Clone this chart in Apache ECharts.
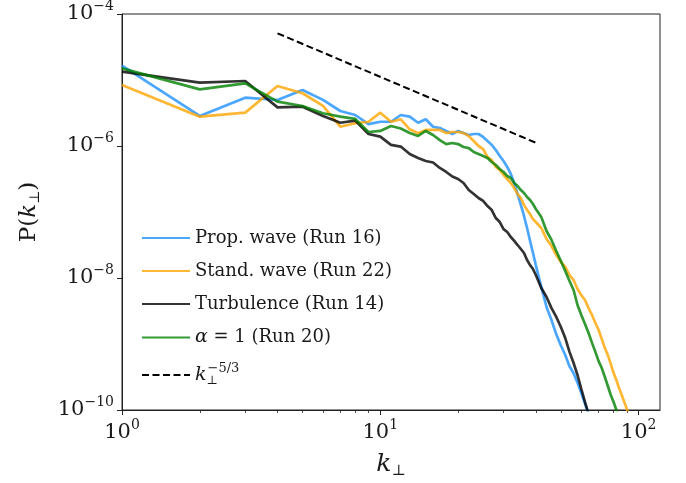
<!DOCTYPE html>
<html><head><meta charset="utf-8">
<script src="https://cdn.jsdelivr.net/npm/echarts@6/dist/echarts.min.js"></script>
<style>html,body{margin:0;padding:0;background:#fff}#c{width:686px;height:483px}</style>
</head><body><div id="c"></div>
<script>
// ---- data ----
const kProp = [1,2,3,4,5,6,7,8,9,10,11,12,13,14,15,16,17,18,19,20,21,22,23,24,25,26,27,28,29,30,31,32,33,34,35,36,37,38,39,40,42,44,46,48,50,52,54,56,58,60,62,64];
const pProp = [1.65e-5,2.85e-6,5.4e-6,4.98e-6,7.05e-6,5.0e-6,3.39e-6,2.95e-6,2.15e-6,2.33e-6,2.33e-6,2.95e-6,2.78e-6,2.25e-6,2.54e-6,1.96e-6,1.87e-6,1.69e-6,1.52e-6,1.69e-6,1.57e-6,1.47e-6,1.52e-6,1.52e-6,1.37e-6,1.19e-6,1.04e-6,8.7e-7,7.05e-7,5.93e-7,4.81e-7,3.77e-7,2.75e-7,1.87e-7,1.28e-7,8.7e-8,5.73e-8,3.64e-8,2.39e-8,1.57e-8,7.3e-9,3.64e-9,2.3e-9,1.4e-9,9.5e-10,6.8e-10,4.6e-10,3.6e-10,2.6e-10,1.8e-10,1.25e-10,8.7e-11];

const kStand = [1,2,3,4,5,6,7,8,9,10,11,12,13,14,15,16,17,18,19,20,21,22,23,24,25,26,27,28,29,30,31,32,33,34,35,36,37,38,39,40,42,44,46,48,50,52,54,56,58,60,62,64,66,68,70,72,74,76,78,80,82,84,86,88,90,92];
const pStand = [8.4e-6,2.78e-6,3.2e-6,8.1e-6,6.3e-6,4.04e-6,1.96e-6,2.21e-6,2.33e-6,3.2e-6,2.33e-6,2.54e-6,1.79e-6,1.56e-6,1.75e-6,1.75e-6,1.75e-6,1.57e-6,1.63e-6,1.63e-6,1.57e-6,1.42e-6,1.19e-6,1.0e-6,9.0e-7,6.8e-7,6.1e-7,4.8e-7,4.33e-7,3.63e-7,3.16e-7,2.75e-7,2.31e-7,1.87e-7,1.63e-7,1.28e-7,1.07e-7,9.3e-8,7.8e-8,7.05e-8,5.73e-8,3.9e-8,3.05e-8,2.23e-8,1.75e-8,1.47e-8,1.11e-8,9.3e-9,6.8e-9,5.5e-9,4.65e-9,3.5e-9,2.75e-9,2.08e-9,1.63e-9,1.19e-9,8.7e-10,6.8e-10,5.0e-10,3.64e-10,2.85e-10,2.15e-10,1.69e-10,1.32e-10,1.04e-10,8.1e-11];

const kTurb = [1,2,3,4,5,6,7,8,9,10,11,12,13,14,15,16,17,18,19,20,21,22,23,24,25,26,27,28,29,30,31,32,33,34,35,36,37,38,39,40,42,44,46,48,50,52,54,56,58,60,62,64];
const pTurb = [1.34e-5,9.1e-6,9.66e-6,3.85e-6,3.94e-6,2.85e-6,2.25e-6,2.42e-6,1.52e-6,1.39e-6,1.04e-6,9.8e-7,7.57e-7,6.58e-7,5.93e-7,5.62e-7,4.65e-7,4.04e-7,3.45e-7,3.16e-7,2.75e-7,2.15e-7,1.87e-7,1.63e-7,1.47e-7,1.23e-7,1.07e-7,8.1e-8,7.05e-8,5.5e-8,4.98e-8,4.18e-8,3.64e-8,3.16e-8,2.75e-8,2.39e-8,1.87e-8,1.57e-8,1.37e-8,1.11e-8,7.05e-9,5.15e-9,3.5e-9,2.57e-9,1.81e-9,1.23e-9,7.6e-10,5.15e-10,3.39e-10,2.08e-10,1.32e-10,8.7e-11];

const kAlpha = [1,2,3,4,5,6,7,8,9,10,11,12,13,14,15,16,17,18,19,20,21,22,23,24,25,26,27,28,29,30,31,32,33,34,35,36,37,38,39,40,42,44,46,48,50,52,54,56,58,60,62,64,66,68,70,72,74,76,78,80,82,84];
const pAlpha = [1.5e-5,7.2e-6,8.9e-6,4.7e-6,4.04e-6,3.13e-6,2.78e-6,2.57e-6,1.63e-6,1.69e-6,2.01e-6,1.84e-6,1.57e-6,1.42e-6,1.69e-6,1.47e-6,1.23e-6,1.07e-6,1.11e-6,1.07e-6,9.66e-7,9.3e-7,8.1e-7,7.57e-7,7.05e-7,6.58e-7,5.73e-7,5.15e-7,4.49e-7,4.04e-7,3.51e-7,3.27e-7,2.75e-7,2.48e-7,2.15e-7,1.94e-7,1.69e-7,1.52e-7,1.32e-7,1.11e-7,8.4e-8,5.15e-8,3.77e-8,2.57e-8,1.81e-8,1.28e-8,9.0e-9,6.58e-9,3.9e-9,2.75e-9,2.01e-9,1.47e-9,1.04e-9,7.6e-10,5.5e-10,4.33e-10,3.16e-10,2.31e-10,1.69e-10,1.32e-10,1.0e-10,7.6e-11];

const kRef = [4, 40];
const pRef = [5.1e-5, 1.12e-6];

const seriesNames = ['Prop. wave (Run 16)','Stand. wave (Run 22)','Turbulence (Run 14)','α = 1 (Run 20)','k⊥^−5/3'];
const xMajor = [1, 10, 100];
const xMinor = [2,3,4,5,6,7,8,9,20,30,40,50,60,70,80,90];
const yMajor = [1e-10, 1e-8, 1e-6, 1e-4];

const zip = (a, b) => a.map((v, i) => [v, b[i]]);
const FONT = 'DejaVu Serif';
const TXT = '#1a1a1a';

function supLabel(v) {
  const e = Math.round(Math.log10(v));
  return '{b|10}{s|' + (e < 0 ? '−' + (-e) : e) + '}';
}
const tickRich = {
  b: {fontFamily: FONT, fontSize: 21, color: TXT},
  s: {fontFamily: FONT, fontSize: 14, color: TXT, padding: [0, 0, 16, 0]}
};

const chart = echarts.init(document.getElementById('c'), null, {renderer: 'canvas'});
const lineS = (name, data, color) => ({
  name, type: 'line', data, symbol: 'none', showSymbol: false,
  lineStyle: {color, width: 2.7, opacity: 0.8}, itemStyle: {color, opacity: 0.8},
  emphasis: {disabled: true}, clip: true
});

chart.setOption({
  animation: false,
  backgroundColor: '#fff',
  grid: {left: 122, right: 26, top: 14, bottom: 73, show: true, borderColor: '#222', borderWidth: 1, containLabel: false, outerBoundsMode: 'none'},
  legend: {
    orient: 'vertical', left: 136, top: 224,
    itemWidth: 48, itemHeight: 14, itemGap: 15,
    data: seriesNames,
    itemStyle: {opacity: 0},
    textStyle: {fontFamily: FONT, fontSize: 18, color: TXT,
      rich: {
        it: {fontFamily: FONT, fontStyle: 'italic', fontSize: 19, color: TXT},
        sub: {fontFamily: FONT, fontSize: 12, color: TXT, width: 1, padding: [12, 0, 0, 0]},
        sup: {fontFamily: FONT, fontSize: 13, color: TXT, padding: [0, 0, 13, 0]}
      }},
    formatter: n => {
      if (n === seriesNames[3]) return '{it|α} = 1 (Run 20)';
      if (n === seriesNames[4]) return '{it|k}{sub|⊥}{sup|−5/3}';
      return n;
    }
  },
  xAxis: [{
    type: 'log', logBase: 10, min: 1, max: 121,
    name: '{it|k}{sub|⊥}', nameLocation: 'middle', nameGap: 40,
    nameTextStyle: {rich: {
      it: {fontFamily: FONT, fontStyle: 'italic', fontSize: 25, color: TXT},
      sub: {fontFamily: FONT, fontSize: 15, color: TXT, padding: [14, 0, 0, 0]}
    }},
    axisLine: {show: true, lineStyle: {color: '#222', width: 1}},
    axisTick: {show: true, inside: false, length: 5, lineStyle: {color: '#222', width: 1}, customValues: xMajor},
    axisLabel: {show: true, margin: 8, customValues: xMajor, formatter: supLabel, rich: tickRich},
    splitLine: {show: false}, minorTick: {show: false}
  }, {
    type: 'log', logBase: 10, min: 1, max: 121, position: 'bottom',
    axisLine: {show: false},
    axisTick: {show: true, inside: false, length: 3, lineStyle: {color: '#222', width: 0.8}, customValues: xMinor},
    axisLabel: {show: false}, splitLine: {show: false}
  }],
  yAxis: {
    type: 'log', logBase: 10, min: 1e-10, max: 1e-4,
    name: '{n|P(}{it|k}{sub|⊥}{n|)}', nameLocation: 'middle', nameGap: 80, nameRotate: 90,
    nameTextStyle: {rich: {
      n: {fontFamily: FONT, fontSize: 23, color: TXT},
      it: {fontFamily: FONT, fontStyle: 'italic', fontSize: 23, color: TXT},
      sub: {fontFamily: FONT, fontSize: 14, color: TXT, padding: [12, 0, 0, 0]}
    }},
    axisLine: {show: true, lineStyle: {color: '#222', width: 1}},
    axisTick: {show: true, inside: false, length: 5, lineStyle: {color: '#222', width: 1}, customValues: yMajor},
    axisLabel: {show: true, margin: 8, customValues: yMajor, formatter: supLabel, rich: tickRich},
    splitLine: {show: false}
  },
  series: [
    lineS(seriesNames[0], zip(kProp, pProp), 'rgb(30,144,255)'),
    lineS(seriesNames[1], zip(kStand, pStand), 'rgb(255,165,0)'),
    lineS(seriesNames[2], zip(kTurb, pTurb), 'rgb(0,0,0)'),
    lineS(seriesNames[3], zip(kAlpha, pAlpha), 'rgb(0,128,0)'),
    {name: seriesNames[4], type: 'line', data: zip(kRef, pRef), symbol: 'none', showSymbol: false,
     lineStyle: {color: '#000', width: 2, type: [7, 3.5]}, itemStyle: {color: '#000'}, emphasis: {disabled: true}}
  ]
});
</script>
</body></html>
